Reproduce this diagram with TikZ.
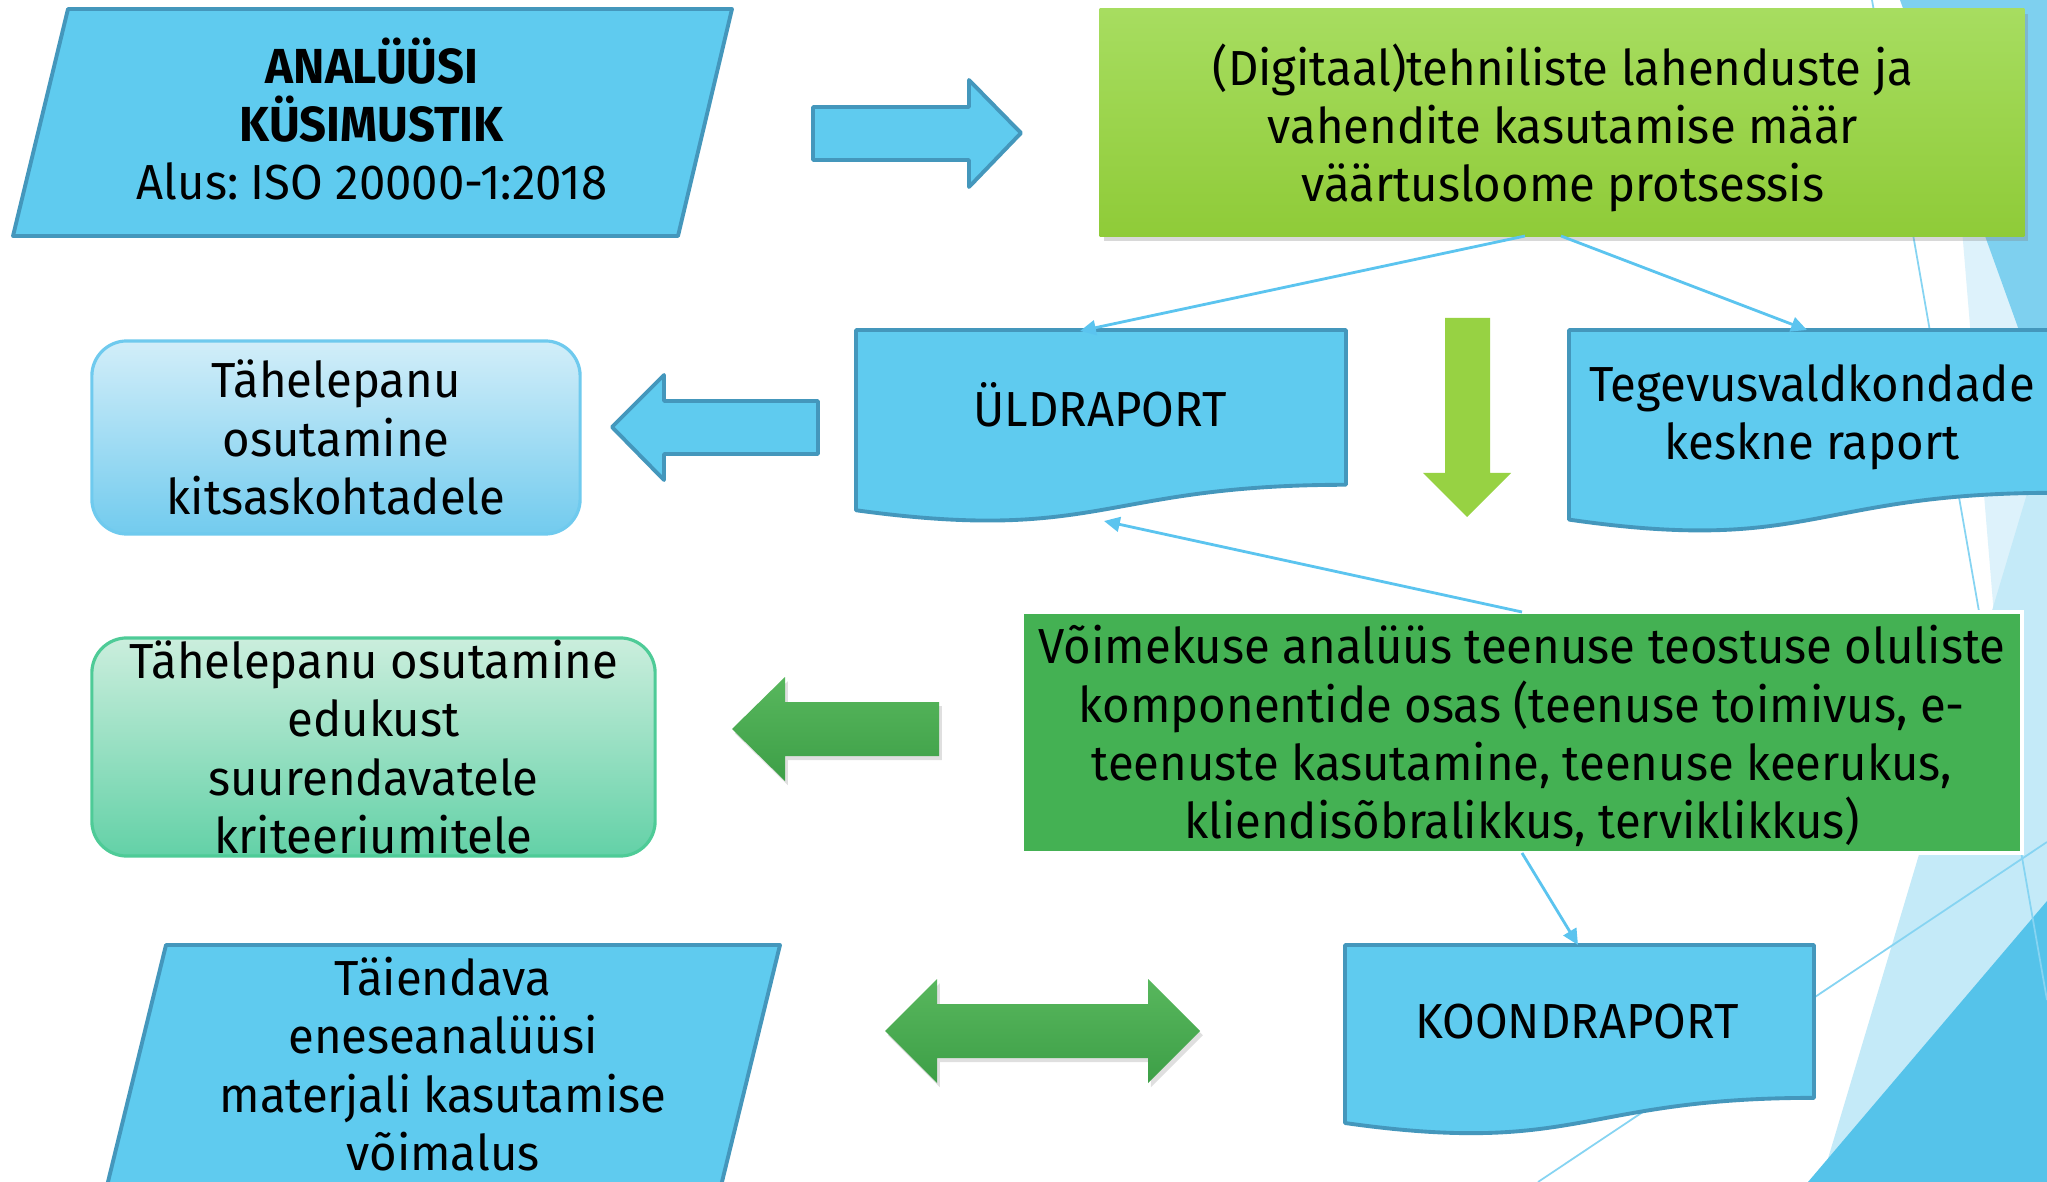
\documentclass[tikz,border=0pt]{standalone}
\usepackage{fontspec}
\setmainfont{Fira Sans}[FakeStretch=0.96]
\usetikzlibrary{arrows.meta,shadows}
\definecolor{cblue}{HTML}{5FCBEF}
\definecolor{cbluedk}{HTML}{4497BC}
\definecolor{cgrA}{HTML}{A7DD60}
\definecolor{cgrB}{HTML}{8FCB38}
\definecolor{cgrArrow}{HTML}{97D243}
\definecolor{cgrBox}{HTML}{44B153}
\definecolor{cdgA}{HTML}{58B75D}
\definecolor{cdgB}{HTML}{3D9F47}
\definecolor{crbA}{HTML}{D2EEF9}
\definecolor{crbB}{HTML}{72CBEE}
\definecolor{crbD}{HTML}{6FCAEE}
\definecolor{crgA}{HTML}{CBEEDD}
\definecolor{crgB}{HTML}{63D1A7}
\definecolor{crgD}{HTML}{4ECB97}
\definecolor{cconn}{HTML}{5BC4EF}
\definecolor{cdecM}{HTML}{7ED0EF}
\definecolor{cdecL}{HTML}{DDF2FB}
\definecolor{cdecB}{HTML}{C4EAF8}
\definecolor{cdecD}{HTML}{55C3EA}
\definecolor{cdecLine}{HTML}{86D4F2}
\frenchspacing
\tikzset{
  lbl/.style={font=\fontsize{14}{16.55}\selectfont, align=center, text=black, inner sep=0pt},
  bluefill/.style={fill=cblue, draw=cbluedk, line width=1.1pt, line join=round},
  conn/.style={draw=cconn, line width=0.8pt, -{Triangle[length=4.5pt,width=4.2pt]}},
  dgarrow/.style={top color=cdgA, bottom color=cdgB, drop shadow={opacity=0.25, shadow xshift=0.8pt, shadow yshift=-1.2pt}},
}
\newcommand{\flowdoc}[5]{%
  \path[#1] (#2,#4) -- (#3,#4) -- (#3,{#4+0.802*#5})
    .. controls ({(#2+#3)/2},{#4+0.802*#5}) and ({(#2+#3)/2},{#4+1.1075*#5}) ..
    (#2,{#4+0.934*#5}) -- cycle;}
\begin{document}
\begin{tikzpicture}[x=0.01cm,y=-0.01cm]
\clip (0,0) rectangle (2047,1182);
\fill[white] (0,0) rectangle (2047,1182);
% background decoration
\fill[cdecL] (1943,0) -- (2047,0) -- (2047,1182) -- (2041,1182) -- cycle;
\fill[cdecM] (1900,0) -- (2047,0) -- (2047,408) -- cycle;
\fill[cdecB] (2047,427) -- (1821,1182) -- (2047,1182) -- cycle;
\fill[cdecD] (1808,1182) -- (2047,901) -- (2047,1182) -- cycle;
\draw[cdecLine, line width=0.5pt] (1872,0) -- (2047,1000);
\draw[cdecLine, line width=0.5pt] (1538,1182) -- (2047,842);

% parallelogram 1
\path[bluefill] (68,9) -- (732,9) -- (678,236) -- (13,236) -- cycle;
\node[lbl] (p1) at (372,119) {\textbf{ANALÜÜSI}\\\textbf{KÜSIMUSTIK}\\Alus: ISO 20000-1:2018};

% right blue arrow
\path[bluefill] (813,107) -- (969,107) -- (969,80) -- (1021,133) -- (969,187) -- (969,160) -- (813,160) -- cycle;

% green top box
\node[minimum width=9.24cm, minimum height=2.27cm, inner sep=0pt, top color=cgrA, bottom color=cgrB,
  drop shadow={opacity=0.3, shadow xshift=1.2pt, shadow yshift=-1.5pt}] (gbox) at (1562,122.5) {};
\node[lbl] (gtxt) at (1563,128) {(Digitaal)tehniliste lahenduste ja\\vahendite kasutamise määr\\väärtusloome protsessis};

% document shapes
\flowdoc{bluefill}{856}{1346}{330}{193}
\node[lbl] (uld) at (1100,405) {ÜLDRAPORT};
\flowdoc{bluefill}{1569}{2055}{330}{203}
\node[lbl] (teg) at (1812,417) {Tegevusvaldkondade\\keskne raport};

% green down arrow
\fill[cgrArrow] (1445,318) -- (1490,318) -- (1490,473) -- (1511,473) -- (1467,517) -- (1423,473) -- (1445,473) -- cycle;

% left blue arrow
\path[bluefill] (818,401) -- (664,401) -- (664,375) -- (612,427) -- (664,480) -- (664,454) -- (818,454) -- cycle;

% rounded boxes
\node[lbl, minimum width=4.88cm, minimum height=1.93cm, rounded corners=0.35cm,
  top color=crbA, bottom color=crbB, draw=crbD, line width=0.9pt] (tk) at (336,437.5)
  {Tähelepanu\\osutamine\\kitsaskohtadele};
\node[lbl, minimum width=5.63cm, minimum height=2.18cm, rounded corners=0.35cm,
  top color=crgA, bottom color=crgB, draw=crgD, line width=0.9pt] (te) at (373.5,747)
  {Tähelepanu osutamine\\edukust\\suurendavatele\\kriteeriumitele};

% green left arrow
\path[dgarrow] (939,702) -- (785,702) -- (785,677) -- (732,729) -- (785,781) -- (785,756) -- (939,756) -- cycle;

% Voimekuse box
\node[minimum width=10.0cm, minimum height=2.41cm, inner sep=0pt, fill=cgrBox, draw=white, line width=1.2pt] (vb) at (1522,732.5) {};
\node[lbl] (vtxt) at (1522,736) {Võimekuse analüüs teenuse teostuse oluliste\\komponentide osas (teenuse toimivus, e-\\teenuste kasutamine, teenuse keerukus,\\kliendisõbralikkus, terviklikkus)};

% koondraport
\flowdoc{bluefill}{1345}{1814}{945}{190.6}
\node[lbl] (koo) at (1577,1022) {KOONDRAPORT};

% parallelogram 2
\path[bluefill] (166,945) -- (780,945) -- (720,1190) -- (106,1190) -- cycle;
\node[lbl] (p2) at (443,1064) {Täiendava\\eneseanalüüsi\\materjali kasutamise\\võimalus};

% double arrow
\path[dgarrow] (885,1031) -- (937,979) -- (937,1004) -- (1148,1004) -- (1148,979) -- (1200,1031) -- (1148,1083) -- (1148,1058) -- (937,1058) -- (937,1083) -- cycle;

% connectors
\coordinate (gA) at (1525,236);
\coordinate (gB) at (1561,236);
\coordinate (uldT) at (1080,331);
\coordinate (tegT) at (1807,330);
\coordinate (vTop) at (1522,612);
\coordinate (uldB) at (1104,521);
\coordinate (vBot) at (1522,853);
\coordinate (kooT) at (1578,945);
\draw[conn] (gA) -- (uldT);
\draw[conn] (gB) -- (tegT);
\draw[conn] (vTop) -- (uldB);
\draw[conn] (vBot) -- (kooT);
\end{tikzpicture}
\end{document}
